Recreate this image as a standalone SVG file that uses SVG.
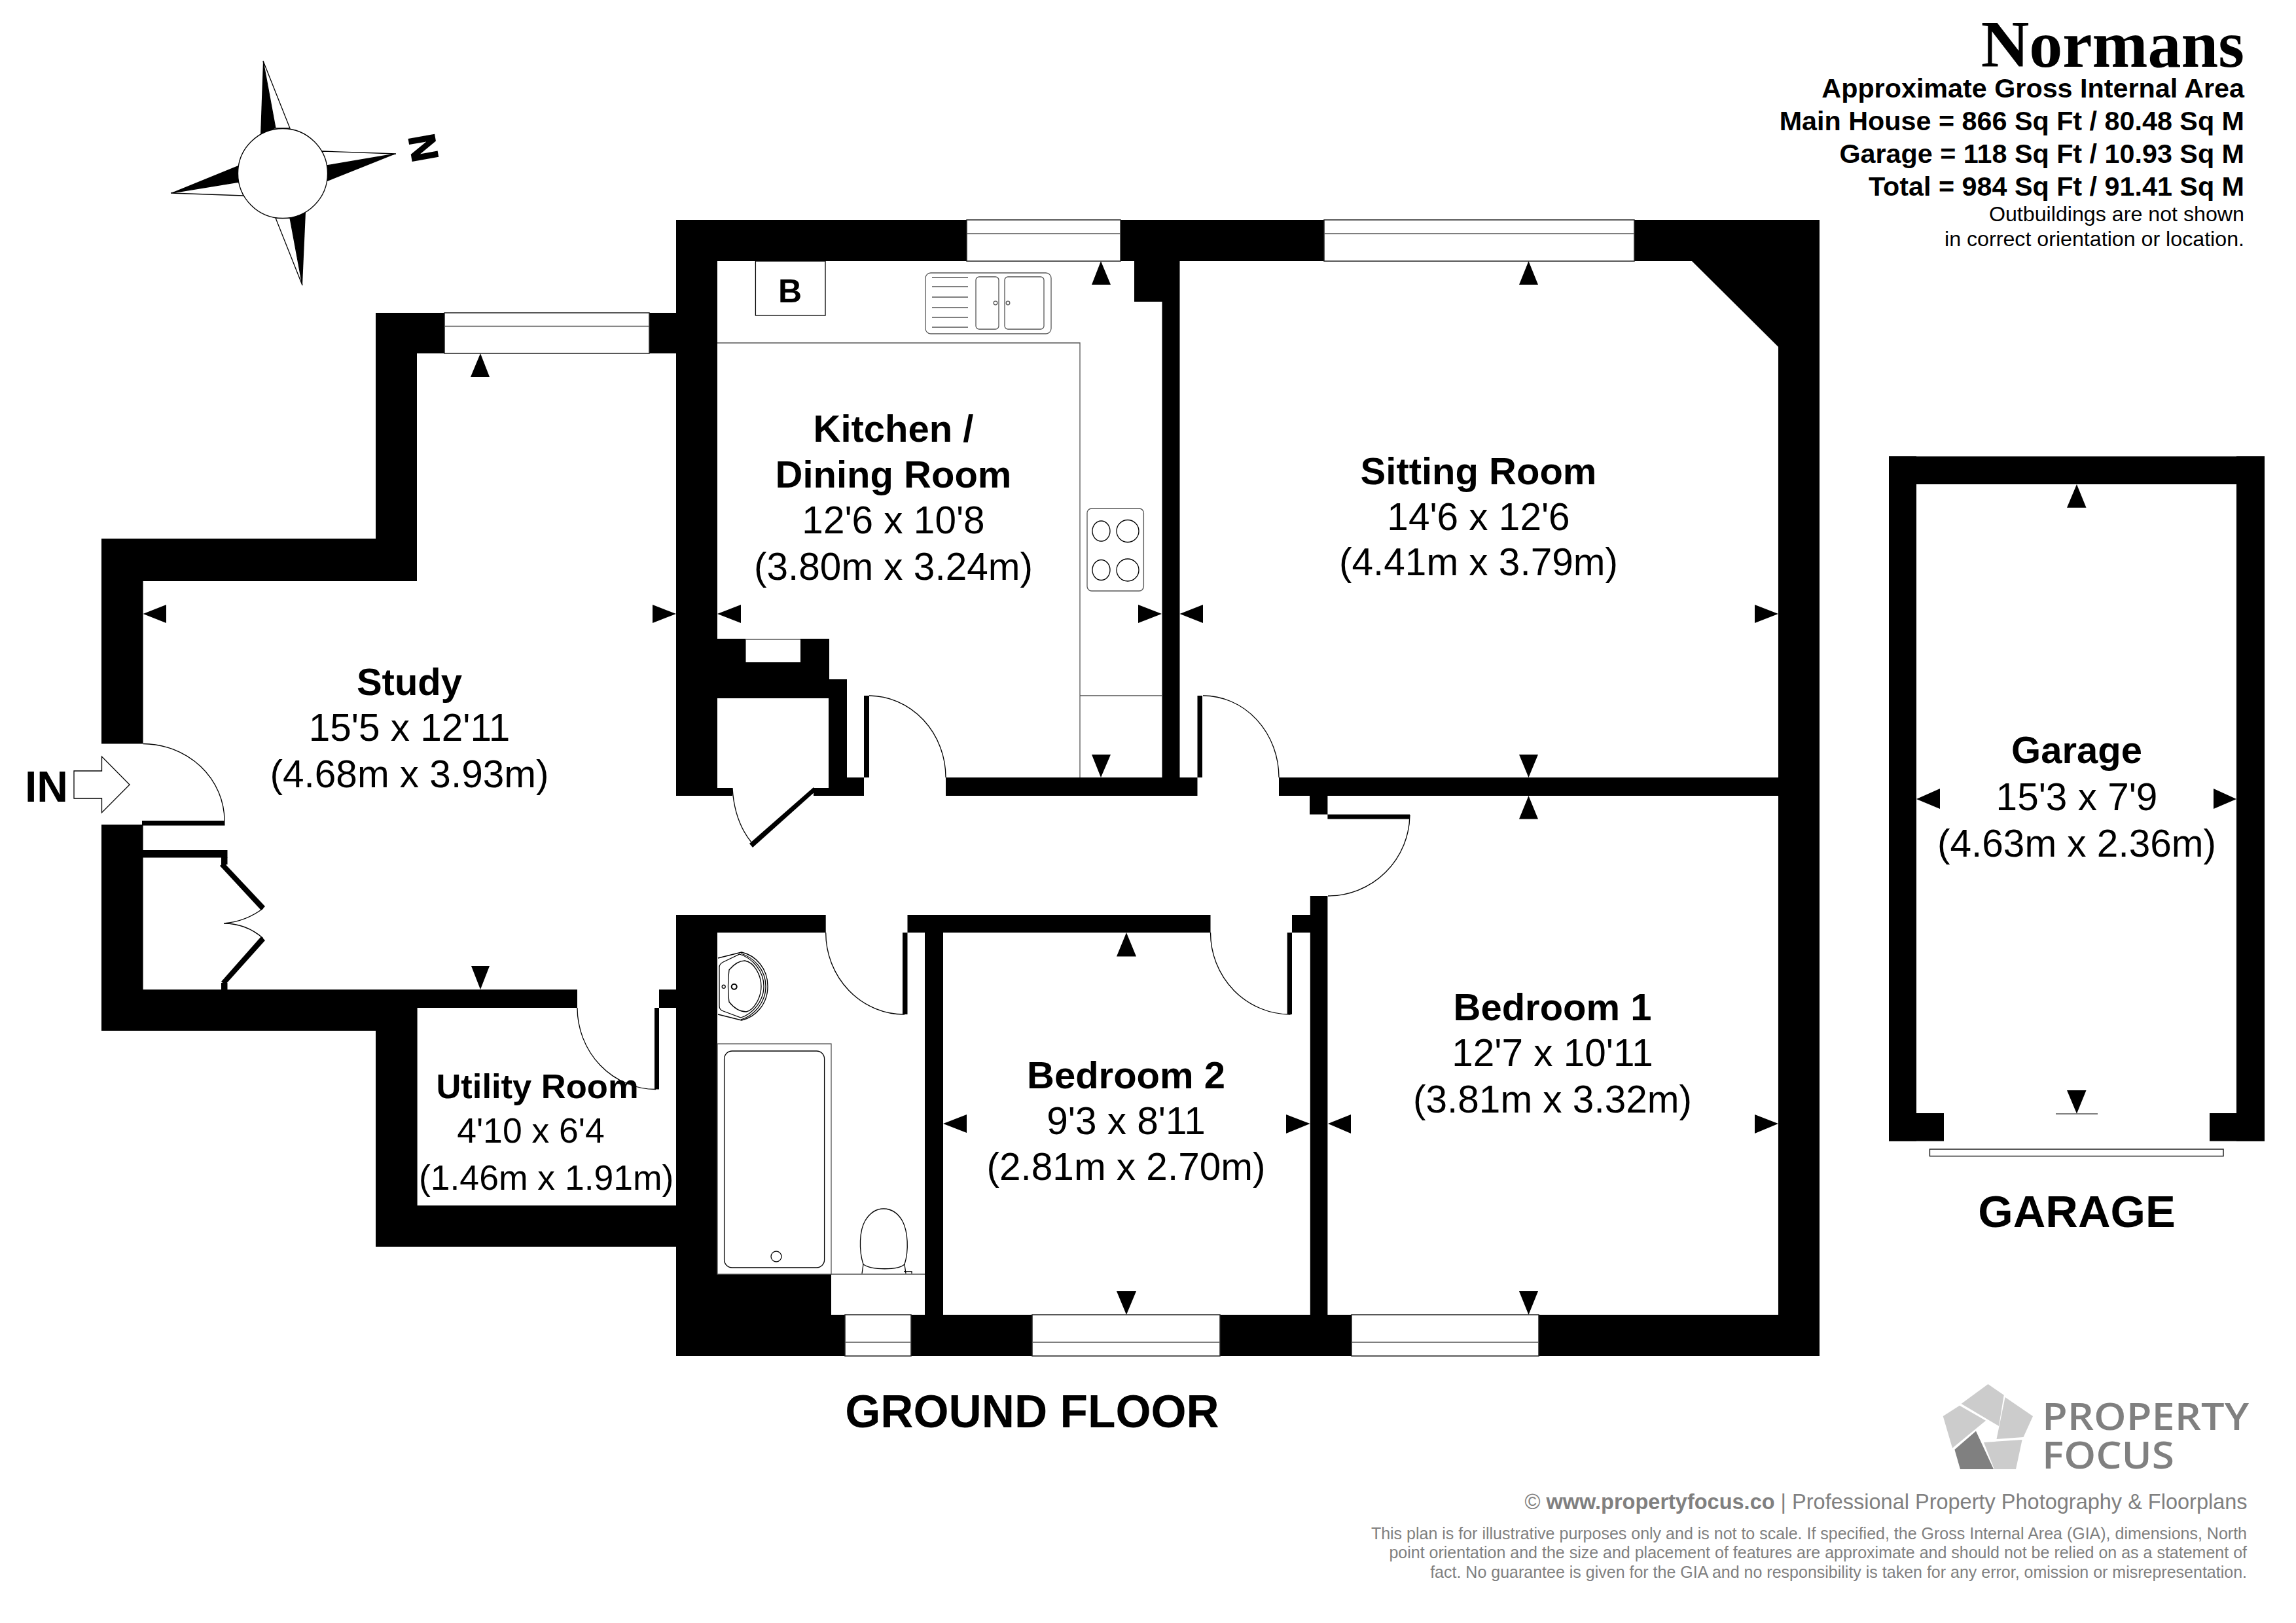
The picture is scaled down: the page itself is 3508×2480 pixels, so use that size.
<svg xmlns="http://www.w3.org/2000/svg" width="3508" height="2480" viewBox="0 0 3508 2480">
<style>
.w{fill:#000}
.win{fill:#fff;stroke:#222;stroke-width:1.5}
.l{fill:none;stroke:#000;stroke-width:1.3}
.g{fill:none;stroke:#555;stroke-width:1.3}
.a{fill:#000}
text{font-family:"Liberation Sans",Arial,sans-serif;fill:#000}
.t{font-size:58.5px;text-anchor:middle}
.b{font-weight:700;font-size:58px}
.u{font-size:53.5px;text-anchor:middle}
.ub{font-size:52.5px;font-weight:700}
.h{font-size:41.3px;font-weight:700;text-anchor:end}
.s{font-size:32.2px;text-anchor:end}
.f{font-size:69.5px;font-weight:700;text-anchor:middle}
.grey{fill:#808080}
.d{font-size:25px;text-anchor:end;fill:#808080}
</style>
<rect width="3508" height="2480" fill="#fff"/>

<g id="compass">
<polygon points="402,93 398,206 421,196" class="w"/>
<polygon points="402,93 421,196 443,196" fill="#fff" stroke="#000" stroke-width="1.3"/>
<polygon points="605,235 499,253 500,277" class="w"/>
<polygon points="605,235 492,231 499,253" fill="#fff" stroke="#000" stroke-width="1.3"/>
<polygon points="261,295 364,253 365,278" class="w"/>
<polygon points="261,295 365,278 372,299" fill="#fff" stroke="#000" stroke-width="1.3"/>
<polygon points="462,436 467,324 443,333" class="w"/>
<polygon points="462,436 443,333 421,333" fill="#fff" stroke="#000" stroke-width="1.3"/>
<circle cx="432" cy="265" r="68.5" fill="#fff" stroke="#000" stroke-width="1.3"/>
<text transform="translate(647.3,225.7) rotate(80)" y="20" text-anchor="middle" stroke="#000" stroke-width="2" style="font-size:57px;font-weight:700">N</text>
</g>

<g id="walls">
<path class="w" d="M1033 336H2780V2072H1033V1398H1261.7V1425H1096V1947H1270V2009H1413V1425H1386.5V1550H1379V1425H1386.5V1398H1849.5V1425H1441V2009H2001.8V1425H1974V1550H1966.7V1425H1974V1398H2001.8V1369H2028.4V2009H2717V1216H2028.4V1244.5H2154V1251.5H2028.4V1244.5H2001V1216H1954V1188H2717V530L2585 399H1802.5V1188H1837V1063H1829.5V1216H1445V1188H1775.5V461H1733V399H1096V976H1139.5V1012H1223V976H1267V1038H1294V1188H1320V1063H1328V1188H1320V1216H1243V1204H1266V1067H1096V1204H1119V1216H1033Z"/>
<path class="w" d="M155 823H574V478H1033V540H637V888H218.6V1136.5H155ZM155 1260H218.6V1512H882V1540H637.6V1842H1033.7V1905H574V1575H155Z"/>
<rect class="w" x="1007" y="1512" width="26.7" height="28"/>
<g id="door-leaves">
<rect class="w" x="1000" y="1540" width="7" height="124.5"/>
<rect class="w" x="217" y="1254" width="126.5" height="7.5"/>
<rect class="w" x="218" y="1299" width="129.5" height="11.5"/>
<rect class="w" x="338" y="1310" width="9.5" height="11"/>
<polygon class="w" points="336,1323 342,1318 405,1385 399,1391"/>
<polygon class="w" points="399,1431 405,1437 344,1505 338,1500"/>
<rect class="w" x="338" y="1502" width="9.5" height="10"/>
<polygon class="w" points="1243,1203 1246,1209 1150,1295 1145,1289"/>
</g>
<path class="g" d="M1139.5 977H1223"/>
<rect class="w" x="2886" y="697.4" width="574" height="42.6"/>
<rect class="w" x="2886" y="697.4" width="42" height="1046.3"/>
<rect class="w" x="3417" y="697.4" width="43" height="1046.3"/>
<rect class="w" x="2886" y="1701" width="84" height="42.7"/>
<rect class="w" x="3376" y="1701" width="84" height="42.7"/>
</g>

<g id="windows">
<rect class="win" x="679" y="478" width="313" height="62"/><path class="g" d="M679 498.5H992"/>
<rect class="win" x="1477" y="336" width="235" height="63"/><path class="g" d="M1477 357H1712"/>
<rect class="win" x="2023" y="336" width="474" height="63"/><path class="g" d="M2023 357H2497"/>
<rect class="win" x="1291" y="2009" width="101" height="63"/><path class="g" d="M1291 2051H1392"/>
<rect class="win" x="1577" y="2009" width="287" height="63"/><path class="g" d="M1577 2051H1864"/>
<rect class="win" x="2065" y="2009" width="286" height="63"/><path class="g" d="M2065 2051H2351"/>
<rect class="win" x="2948.4" y="1756" width="448.6" height="10.6"/>
<path class="g" d="M3141 1702H3205"/>
</g>

<g id="door-arcs">
<path class="l" d="M218.6 1136.5A125 118 0 0 1 343 1254"/>
<path class="l" d="M1328 1063A118 125 0 0 1 1445 1188"/>
<path class="l" d="M1838 1063A116 125 0 0 1 1954 1188"/>
<path class="l" d="M2154 1245A125 125 0 0 1 2029 1369"/>
<path class="l" d="M1849.5 1425A122 125 0 0 0 1971.6 1550"/>
<path class="l" d="M1261.7 1425A120 125 0 0 0 1382 1550"/>
<path class="l" d="M882 1540A120 125 0 0 0 1002 1664.5"/>
<path class="l" d="M1119 1204Q1122 1255 1148 1287"/>
<path class="l" d="M402 1388Q376 1408 342 1411Q376 1411 402 1433.7"/>
<polygon points="113,1178 155.5,1178 155.5,1156 198,1199 155.5,1241.7 155.5,1220 113,1220" fill="#fff" stroke="#000" stroke-width="1.3"/>
</g>

<g id="fixtures">
<rect class="l" x="1154.4" y="399" width="106.6" height="83"/>
<path class="g" d="M1096 524H1650V1188M1650 1063H1775"/>
<g id="sink">
<rect class="g" x="1414" y="417" width="192" height="93" rx="8"/>
<path class="g" d="M1424 424H1479M1424 438H1479M1424 454H1479M1424 470H1479M1424 485H1479M1424 500H1479"/>
<rect class="g" x="1491" y="423" width="35" height="80" rx="5"/>
<rect class="g" x="1535" y="423" width="60" height="80" rx="5"/>
<circle class="g" cx="1521" cy="463" r="2.8"/><circle class="g" cx="1540" cy="463" r="2.8"/>
</g>
<g id="hob">
<rect class="g" x="1661" y="777" width="86.4" height="126" rx="7"/>
<ellipse class="l" cx="1682.5" cy="811.5" rx="13.5" ry="15.5"/><ellipse class="l" cx="1723" cy="811.5" rx="17" ry="17"/>
<ellipse class="l" cx="1682.5" cy="871" rx="13.5" ry="15.5"/><ellipse class="l" cx="1723" cy="871" rx="17" ry="17"/>
</g>
<g id="basin">
<path class="l" d="M1097 1464L1133 1455C1155 1460 1173 1480 1173 1507C1173 1534 1155 1554 1133 1559L1097 1550"/>
<path class="l" d="M1132 1457C1152 1463 1170 1482 1170 1507C1170 1532 1152 1552 1132 1558"/>
<path class="l" d="M1105 1470L1130 1458C1150 1464 1167 1484 1167 1507C1167 1530 1150 1549 1132 1555L1105 1545Q1099 1543 1099 1537V1478Q1099 1473 1105 1470Z"/>
<path class="l" d="M1114 1482Q1126 1468 1138 1468C1152 1470 1163 1490 1163 1507C1163 1524 1152 1544 1140 1546Q1126 1546 1114 1531Q1111 1507 1114 1482Z"/>
<circle cx="1121.7" cy="1507.7" r="4" fill="none" stroke="#000" stroke-width="2"/><circle class="l" cx="1105.7" cy="1507.7" r="2.5"/>
</g>
<g id="bath">
<rect class="g" x="1096" y="1595" width="174" height="352"/>
<rect class="l" x="1106.6" y="1606" width="153" height="331" rx="12"/>
<circle class="l" cx="1186" cy="1920" r="8"/>
</g>
<g id="toilet">
<path class="l" d="M1319 1932C1312 1910 1313 1880 1322 1865C1330 1852 1340 1847 1350 1847C1360 1847 1371 1852 1379 1866C1387 1882 1389 1910 1382 1932C1372 1941 1332 1941 1319 1932Z"/>
<path class="l" d="M1319 1932L1317 1946M1382 1932L1384 1946M1381 1943H1393V1946"/>
<path class="g" d="M1270 1947H1413"/>
</g>
</g>

<g id="dimension-arrows">
<polygon class="a" points="734,540 719,576 748,576"/>
<polygon class="a" points="734,1512 720,1476 748,1476"/>
<polygon class="a" points="218.6,938 254,924 254,952"/>
<polygon class="a" points="1033,938 997,924 997,952"/>
<polygon class="a" points="1096,938 1132,924 1132,952"/>
<polygon class="a" points="1775,938 1739,924 1739,952"/>
<polygon class="a" points="1802.5,938 1838,924 1838,952"/>
<polygon class="a" points="2717,938 2681,924 2681,952"/>
<polygon class="a" points="1682,399 1668,435 1697,435"/>
<polygon class="a" points="1682,1188 1668,1153 1697,1153"/>
<polygon class="a" points="2335.5,399 2321,435 2350,435"/>
<polygon class="a" points="2335.5,1188 2321,1153 2350,1153"/>
<polygon class="a" points="2335.5,1216 2321,1251.5 2350,1251.5"/>
<polygon class="a" points="2335.5,2009 2321,1973 2350,1973"/>
<polygon class="a" points="2029,1717 2064,1703 2064,1732"/>
<polygon class="a" points="2717,1717 2681,1703 2681,1732"/>
<polygon class="a" points="2001.6,1717 1965,1703 1965,1732"/>
<polygon class="a" points="1441,1717 1477,1703 1477,1731"/>
<polygon class="a" points="1721,1425 1706,1461.6 1736,1461.6"/>
<polygon class="a" points="1721,2009 1706,1973 1736,1973"/>
<polygon class="a" points="3173,740 3158,775.7 3187.5,775.7"/>
<polygon class="a" points="3173,1701.7 3158,1666 3187.5,1666"/>
<polygon class="a" points="2928,1221 2964,1205 2964,1236"/>
<polygon class="a" points="3417,1221 3382,1205 3382,1236"/>
</g>

<g id="labels">
<text x="1207" y="462" text-anchor="middle" style="font-size:50px;font-weight:700">B</text>
<text x="71" y="1225" text-anchor="middle" style="font-size:66px;font-weight:700">IN</text>
<g id="study"><text x="625.5" y="1062" class="t b">Study</text><text x="625.5" y="1132" class="t">15'5 x 12'11</text><text x="625.5" y="1203" class="t">(4.68m x 3.93m)</text></g>
<g id="kitchen"><text x="1365" y="675" class="t b">Kitchen /</text><text x="1365" y="745" class="t b">Dining Room</text><text x="1365" y="815" class="t">12'6 x 10'8</text><text x="1365" y="885.5" class="t">(3.80m x 3.24m)</text></g>
<g id="sitting"><text x="2259" y="740" class="t b">Sitting Room</text><text x="2259" y="810" class="t">14'6 x 12'6</text><text x="2259" y="879" class="t">(4.41m x 3.79m)</text></g>
<g id="utility"><text x="821" y="1678" class="u ub">Utility Room</text><text x="811" y="1746" class="u">4'10 x 6'4</text><text x="834.7" y="1817.6" class="u">(1.46m x 1.91m)</text></g>
<g id="bedroom2"><text x="1720.5" y="1663" class="t b">Bedroom 2</text><text x="1720.5" y="1733" class="t">9'3 x 8'11</text><text x="1720.5" y="1803" class="t">(2.81m x 2.70m)</text></g>
<g id="bedroom1"><text x="2372" y="1559" class="t b">Bedroom 1</text><text x="2372" y="1629" class="t">12'7 x 10'11</text><text x="2372" y="1700" class="t">(3.81m x 3.32m)</text></g>
<g id="garage"><text x="3173" y="1166" class="t b">Garage</text><text x="3173" y="1238" class="t">15'3 x 7'9</text><text x="3173" y="1309" class="t">(4.63m x 2.36m)</text></g>
<text x="1577" y="2181" class="f">GROUND FLOOR</text>
<text x="3173" y="1875" class="f" style="font-size:68.7px">GARAGE</text>
</g>

<g id="title">
<text x="3429" y="101.5" text-anchor="end" style="font-family:'Liberation Serif',serif;font-size:102px;font-weight:700">Normans</text>
<text x="3429" y="149" class="h">Approximate Gross Internal Area</text>
<text x="3429" y="199" class="h">Main House = 866 Sq Ft / 80.48 Sq M</text>
<text x="3429" y="249" class="h">Garage = 118 Sq Ft / 10.93 Sq M</text>
<text x="3429" y="299" class="h">Total = 984 Sq Ft / 91.41 Sq M</text>
<text x="3429" y="337.5" class="s">Outbuildings are not shown</text>
<text x="3429" y="376" class="s">in correct orientation or location.</text>
</g>

<g id="logo">
<polygon fill="#ccc" points="3037.5,2115 3061.7,2131.7 3054,2179 2996.6,2145"/>
<polygon fill="#ccc" points="3063.6,2135 3106,2164 3091.5,2196 3050.5,2199"/>
<polygon fill="#ccc" points="3031,2204 3089.6,2200 3080,2245 3047,2245"/>
<polygon fill="#808080" points="3019,2186.7 3046,2245 2995,2245 2986.4,2215"/>
<polygon fill="#ccc" points="2968.7,2164 2994,2147.7 3034,2170.7 2983,2212.7"/>
<text x="3120" y="2185" class="grey" textLength="316" lengthAdjust="spacingAndGlyphs" style="font-family:'Open Sans',sans-serif;font-size:58px;font-weight:600">PROPERTY</text>
<text x="3120" y="2244" class="grey" textLength="202" lengthAdjust="spacingAndGlyphs" style="font-family:'Open Sans',sans-serif;font-size:58px;font-weight:600">FOCUS</text>
</g>

<g id="footer">
<text x="3433.6" y="2306" text-anchor="end" class="grey" style="font-size:32.5px">© <tspan font-weight="700">www.propertyfocus.co</tspan> | Professional Property Photography &amp; Floorplans</text>
<text x="3433" y="2351.5" class="d">This plan is for illustrative purposes only and is not to scale. If specified, the Gross Internal Area (GIA), dimensions, North</text>
<text x="3433" y="2381" class="d">point orientation and the size and placement of features are approximate and should not be relied on as a statement of</text>
<text x="3433" y="2411" class="d">fact. No guarantee is given for the GIA and no responsibility is taken for any error, omission or misrepresentation.</text>
</g>
</svg>
